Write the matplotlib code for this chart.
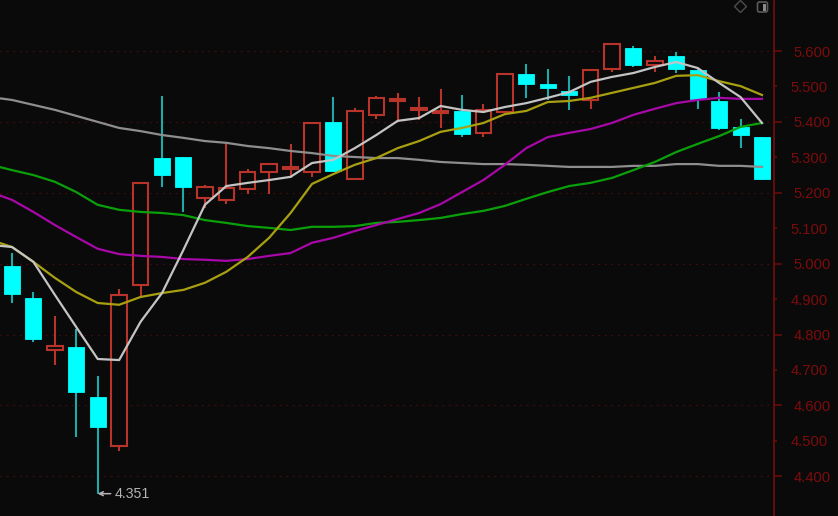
"""
    daily candlesticks with moving averages
"""

import matplotlib
matplotlib.use("Agg")
import matplotlib.pyplot as plt
import numpy as np
from matplotlib.lines import Line2D
from matplotlib.patches import FancyBboxPatch
from matplotlib.ticker import FixedLocator, FormatStrFormatter

# body_top / body_bottom are max(open, close) / min(open, close)
high = [5.030, 4.920, 4.853, 4.816, 4.683, 4.929, 5.231, 5.473, 5.301, 5.222, 5.341, 5.267,
        5.281, 5.338, 5.397, 5.470, 5.439, 5.473, 5.482, 5.470, 5.493, 5.476, 5.451, 5.535,
        5.563, 5.549, 5.530, 5.549, 5.620, 5.614, 5.586, 5.597, 5.549, 5.484, 5.408, 5.357]
body_top = [4.994, 4.903, 4.768, 4.765, 4.624, 4.912, 5.228, 5.298, 5.301, 5.216, 5.214, 5.259,
            5.281, 5.273, 5.397, 5.400, 5.431, 5.468, 5.465, 5.439, 5.431, 5.431, 5.434, 5.535,
            5.535, 5.507, 5.487, 5.547, 5.620, 5.609, 5.572, 5.586, 5.547, 5.459, 5.386, 5.357]
body_bottom = [4.915, 4.788, 4.757, 4.638, 4.539, 4.486, 4.940, 5.250, 5.216, 5.185, 5.180, 5.211,
               5.259, 5.267, 5.259, 5.262, 5.239, 5.420, 5.459, 5.434, 5.425, 5.366, 5.369, 5.428,
               5.507, 5.496, 5.476, 5.462, 5.549, 5.561, 5.561, 5.549, 5.465, 5.383, 5.363, 5.239]
low = [4.889, 4.779, 4.714, 4.511, 4.351, 4.472, 4.906, 5.216, 5.146, 5.157, 5.168, 5.197,
       5.197, 5.242, 5.245, 5.262, 5.239, 5.408, 5.400, 5.405, 5.383, 5.357, 5.357, 5.425,
       5.468, 5.462, 5.434, 5.437, 5.541, 5.555, 5.541, 5.538, 5.437, 5.377, 5.326, 5.236]
is_up = [0, 0, 1, 0, 0, 1, 1, 0, 0, 1, 1, 1,
         1, 1, 1, 0, 1, 1, 1, 1, 1, 0, 1, 1,
         0, 0, 0, 1, 1, 0, 1, 0, 0, 0, 0, 0]

# moving averages start one session before the first visible candle
ma_white = [5.053, 5.047, 5.005, 4.912, 4.821, 4.731, 4.728, 4.836, 4.917, 5.039, 5.166, 5.219, 5.228,
            5.236, 5.245, 5.284, 5.293, 5.326, 5.363, 5.403, 5.411, 5.445, 5.434, 5.428, 5.442,
            5.453, 5.468, 5.484, 5.513, 5.527, 5.538, 5.555, 5.569, 5.552, 5.510, 5.470, 5.397]
ma_yellow = [5.067, 5.047, 5.005, 4.960, 4.920, 4.889, 4.884, 4.906, 4.917, 4.926, 4.946, 4.977, 5.019,
             5.073, 5.143, 5.225, 5.253, 5.279, 5.298, 5.326, 5.346, 5.372, 5.383, 5.397, 5.422,
             5.431, 5.456, 5.459, 5.468, 5.482, 5.496, 5.510, 5.530, 5.532, 5.515, 5.501, 5.476]
ma_magenta = [5.202, 5.180, 5.146, 5.109, 5.075, 5.042, 5.027, 5.022, 5.019, 5.013, 5.011, 5.008, 5.013,
              5.022, 5.030, 5.059, 5.073, 5.092, 5.109, 5.126, 5.143, 5.168, 5.202, 5.236, 5.279,
              5.326, 5.357, 5.369, 5.380, 5.397, 5.420, 5.437, 5.453, 5.462, 5.468, 5.465, 5.465]
ma_green = [5.279, 5.264, 5.250, 5.231, 5.202, 5.166, 5.152, 5.146, 5.143, 5.137, 5.123, 5.115, 5.106,
            5.101, 5.095, 5.104, 5.104, 5.106, 5.115, 5.118, 5.123, 5.129, 5.140, 5.149, 5.163,
            5.183, 5.202, 5.219, 5.228, 5.242, 5.264, 5.287, 5.315, 5.338, 5.360, 5.386, 5.397]
ma_gray = [5.470, 5.462, 5.448, 5.434, 5.417, 5.400, 5.383, 5.374, 5.363, 5.355, 5.346, 5.341, 5.332,
           5.326, 5.318, 5.312, 5.304, 5.301, 5.298, 5.298, 5.293, 5.287, 5.284, 5.281, 5.281,
           5.279, 5.276, 5.273, 5.273, 5.273, 5.276, 5.276, 5.281, 5.281, 5.276, 5.276, 5.273]

major_ticks = [4.4, 4.6, 4.8, 5.0, 5.2, 5.4, 5.6]
minor_ticks = [4.5, 4.7, 4.9, 5.1, 5.3, 5.5]
low_label = "4.351"

BACKGROUND = "#0a0a0a"
AXIS_RED = "#6e0c0c"
LABEL_RED = "#7c0c0c"
UP_RED = "#b8342a"
DOWN_CYAN = "#00ffff"
WICK_CYAN = "#1fa9a9"


def main():
    plt.rcParams["font.family"] = ["Liberation Sans", "DejaVu Sans"]

    fig = plt.figure(figsize=(8.38, 5.16), dpi=100, facecolor=BACKGROUND)
    ax = fig.add_axes([0, 0, 774 / 838, 1], facecolor=BACKGROUND)

    x = np.arange(len(high))
    up = np.array(is_up, dtype=bool)
    top = np.array(body_top)
    bottom = np.array(body_bottom)

    # wicks first, bodies cover them
    ax.vlines(x[up], np.array(low)[up], np.array(high)[up], color=UP_RED, lw=1.5, zorder=2)
    ax.vlines(x[~up], np.array(low)[~up], np.array(high)[~up], color=WICK_CYAN, lw=1.5, zorder=2)
    ax.bar(x[up], (top - bottom)[up], bottom=bottom[up], width=0.72,
           facecolor=BACKGROUND, edgecolor=UP_RED, lw=1.5, zorder=3)
    ax.bar(x[~up], (top - bottom)[~up], bottom=bottom[~up], width=0.75,
           facecolor=DOWN_CYAN, edgecolor=DOWN_CYAN, lw=0.6, zorder=3)

    ma_x = np.arange(-1, len(high))
    ax.plot(ma_x, ma_gray, color="#8e8e8e", lw=1.6, zorder=4)
    ax.plot(ma_x, ma_green, color="#0aa00a", lw=1.6, zorder=4)
    ax.plot(ma_x, ma_magenta, color="#a808a8", lw=1.6, zorder=4)
    ax.plot(ma_x, ma_yellow, color="#a8a010", lw=1.6, zorder=4)
    ax.plot(ma_x, ma_white, color="#c4c4c4", lw=1.6, zorder=5)

    ax.annotate(low_label, xy=(4, float(low_label)), xytext=(4.8, float(low_label)),
                color="#b4b4b4", fontsize=10.2, va="center", ha="left", zorder=6,
                arrowprops=dict(arrowstyle="->", color="#b4b4b4", lw=1.1,
                                shrinkA=1, shrinkB=0, mutation_scale=7))

    ax.set_xlim(-0.56, 35.56)
    ax.set_ylim(4.288, 5.744)
    ax.set_xticks([])

    ax.yaxis.tick_right()
    ax.yaxis.set_major_locator(FixedLocator(major_ticks))
    ax.yaxis.set_minor_locator(FixedLocator(minor_ticks))
    ax.yaxis.set_major_formatter(FormatStrFormatter("%.3f"))
    ax.yaxis.set_minor_formatter(FormatStrFormatter("%.3f"))
    ax.tick_params(axis="y", which="major", length=5.8, width=1.1, color=AXIS_RED,
                   labelcolor=LABEL_RED, labelsize=10.6, pad=8)
    ax.tick_params(axis="y", which="minor", length=2.4, width=1.1, color=AXIS_RED,
                   labelcolor=LABEL_RED, labelsize=10.6, pad=9.8)
    ax.grid(axis="y", which="major", color="#4a0c0c", lw=0.9, ls=(0, (1.2, 4)), zorder=1)
    ax.set_axisbelow(True)

    for side in ["top", "left", "bottom"]:
        ax.spines[side].set_visible(False)
    ax.spines["right"].set_color(AXIS_RED)
    ax.spines["right"].set_linewidth(1.3)

    # thin frame line at the window edge
    fig.add_artist(Line2D([837.5 / 838, 837.5 / 838], [0, 1], color="#5a0c0c", lw=0.9))

    # toolbar icons in the top right corner
    fig.add_artist(Line2D([739.5 / 838], [1 - 6 / 516], marker="D", ms=6.2, mfc="none",
                          mec="#4c4c4c", mew=1.0, ls="none"))
    icon = FancyBboxPatch((757.5, 516 - 12), 10, 10, boxstyle="round,pad=0,rounding_size=2",
                          transform=None, fc="none", ec="#5a5a5a", lw=1.2)
    fig.add_artist(icon)
    shade = FancyBboxPatch((762.5, 516 - 10.5), 3.5, 7, boxstyle="square,pad=0",
                           transform=None, fc="#8a8a8a", ec="none")
    fig.add_artist(shade)

    fig.savefig("out.png", dpi=100, facecolor=BACKGROUND)


if __name__ == "__main__":
    main()
